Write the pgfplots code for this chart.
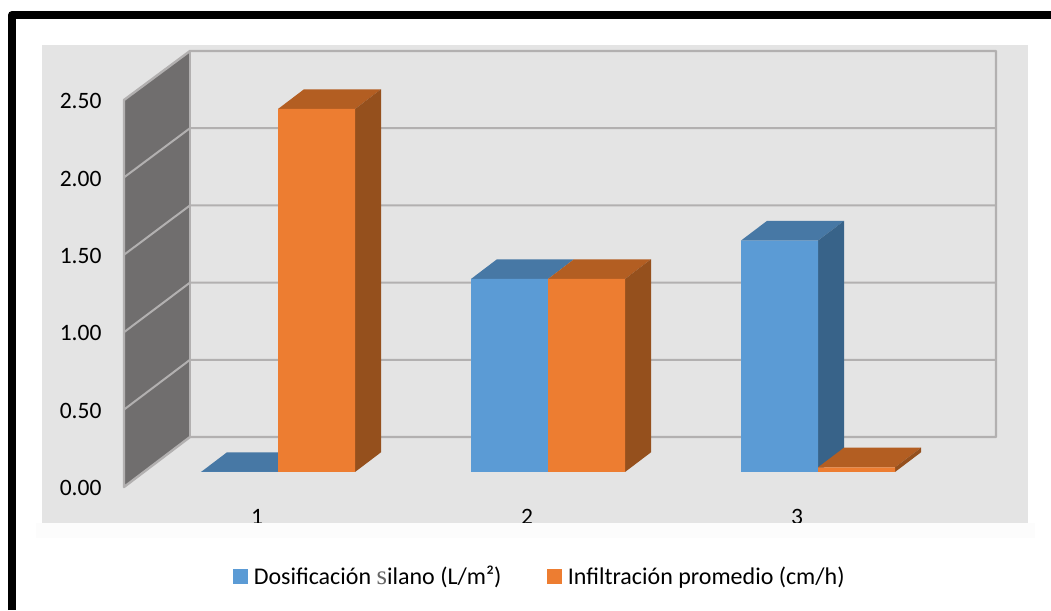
\documentclass[border=0pt]{standalone}
\usepackage{fontspec}
\setmainfont{Carlito}
\newfontfamily\oddfont{Liberation Serif}
\usepackage{pgfplots}
\pgfplotsset{compat=1.18}
\definecolor{blueF}{HTML}{5B9BD5}
\definecolor{blueT}{HTML}{4778A5}
\definecolor{blueS}{HTML}{386389}
\definecolor{orangeF}{HTML}{ED7D31}
\definecolor{orangeT}{HTML}{B35E22}
\definecolor{orangeS}{HTML}{95501D}
\definecolor{panel}{HTML}{E4E4E4}
\definecolor{grid}{HTML}{B2B0B0}
\definecolor{wall}{HTML}{706E6E}
\begin{document}
\begin{tikzpicture}
% page, frame and walls, in the pixels of the reference
\begin{scope}[x=1pt,y=-1pt,yshift=610pt]
  \useasboundingbox (0,0) rectangle (1051,610);
  \fill[white] (0,0) rectangle (1051,610);
  \fill[panel] (42,45) rectangle (1028,523);
  \draw[black,line width=8pt,line join=round] (12,610) -- (12,15) -- (1051,15);
  \fill[wall] (124,100) -- (190,51) -- (190,437) -- (124,487) -- cycle;
  \foreach \k in {1,...,4}
    \draw[grid,line width=2pt] (124,{487-77.4*\k}) -- (190,{437-77.2*\k}) -- (996,{437-77.2*\k});
  \draw[grid,line width=2.4pt,line join=round] (124,487) -- (190,437) -- (996,437) -- (996,51) -- (190,51) -- (124,100) -- cycle;
  \draw[grid,line width=2.4pt] (190,51) -- (190,437);
\end{scope}

% value scale, on the front edge of the side wall
\begin{axis}[
    at={(124pt,123pt)}, anchor=south west,
    scale only axis, width=872pt, height=387pt,
    xmin=0, xmax=1, ymin=0, ymax=2.5,
    axis x line=none, axis y line=left,
    axis line style={draw=none},
    xtick=\empty,
    ytick={0,0.5,1,1.5,2,2.5},
    ytick style={draw=none},
    major tick length=0pt,
    yticklabel style={/pgf/number format/fixed,/pgf/number format/fixed zerofill,
      /pgf/number format/precision=2,/pgf/number format/assume math mode=true,
      font=\fontsize{23.5}{26}\selectfont, xshift=-19pt, yshift=-1.2pt},
  ]
  \addplot[draw=none] coordinates {(0,0) (1,2.5)};
\end{axis}

% bars: y=0 sits on the floor line of the bars
\begin{axis}[
    at={(143pt,138pt)}, anchor=south west,
    scale only axis, width=810pt, height=387pt,
    xmin=0.5, xmax=3.5, ymin=0, ymax=2.5,
    clip=false,
    axis y line=none, axis x line=bottom,
    axis line style={draw=none},
    xtick={1,2,3}, xticklabels={1,2,3},
    xtick style={draw=none},
    major tick length=0pt,
    xticklabel style={font=\fontsize{23.5}{26}\selectfont, xshift=-21pt, yshift=-34pt},
  ]
  % blue depth faces
  \addplot[fill=blueT,draw=none] coordinates {(0.7148,0) (1,0) (1.0963,0.1273) (0.8111,0.1273)} -- cycle;
  \addplot[fill=blueT,draw=none] coordinates {(1.7148,1.247) (2,1.247) (2.0963,1.3743) (1.8111,1.3743)} -- cycle;
  \addplot[fill=blueT,draw=none] coordinates {(2.7148,1.495) (3,1.495) (3.0963,1.6223) (2.8111,1.6223)} -- cycle;
  \addplot[fill=blueS,draw=none] coordinates {(3,0) (3.0963,0.1273) (3.0963,1.6223) (3,1.495)} -- cycle;
  % orange depth faces
  \addplot[fill=orangeT,draw=none] coordinates {(1,2.345) (1.2852,2.345) (1.3815,2.4723) (1.0963,2.4723)} -- cycle;
  \addplot[fill=orangeS,draw=none] coordinates {(1.2852,0) (1.3815,0.1273) (1.3815,2.4723) (1.2852,2.345)} -- cycle;
  \addplot[fill=orangeT,draw=none] coordinates {(2,1.247) (2.2852,1.247) (2.3815,1.3743) (2.0963,1.3743)} -- cycle;
  \addplot[fill=orangeS,draw=none] coordinates {(2.2852,0) (2.3815,0.1273) (2.3815,1.3743) (2.2852,1.247)} -- cycle;
  \addplot[fill=orangeT,draw=none] coordinates {(3,0.03) (3.2852,0.03) (3.3815,0.1573) (3.0963,0.1573)} -- cycle;
  \addplot[fill=orangeS,draw=none] coordinates {(3.2852,0) (3.3815,0.1273) (3.3815,0.1573) (3.2852,0.03)} -- cycle;
  % front faces
  \addplot[ybar,bar width=77pt,bar shift=-38.5pt,fill=blueF,draw=none] coordinates {(1,0) (2,1.247) (3,1.495)};
  \addplot[ybar,bar width=77pt,bar shift=38.5pt,fill=orangeF,draw=none] coordinates {(1,2.345) (2,1.247) (3,0.03)};
\end{axis}

% the category labels are cut off by the panel edge
\begin{scope}[x=1pt,y=-1pt,yshift=610pt]
  \fill[white] (16,523) rectangle (1051,610);
  \fill[black!1] (36,523) rectangle (1035,538);
\end{scope}

% legend
\begin{axis}[
    at={(0pt,0pt)}, anchor=south west,
    scale only axis, width=1051pt, height=610pt,
    xmin=0, xmax=1051, ymin=0, ymax=610,
    hide axis,
    legend style={at={(540pt,34pt)},anchor=center,draw=none,fill=none,
      legend columns=2,font=\fontsize{24}{26}\selectfont,
      /tikz/every even column/.append style={column sep=44pt}},
    legend image code/.code={\fill[#1] (0pt,-7pt) rectangle (13.5pt,6.5pt); \path (18pt,0pt);},
  ]
  \addlegendimage{blueF}
  \addlegendentry{Dosificación {\oddfont\color{black!60}\fontsize{27}{26}\selectfont s}ilano (L/m²)}
  \addlegendimage{orangeF}
  \addlegendentry{Infiltración promedio (cm/h)}
\end{axis}
\end{tikzpicture}
\end{document}
